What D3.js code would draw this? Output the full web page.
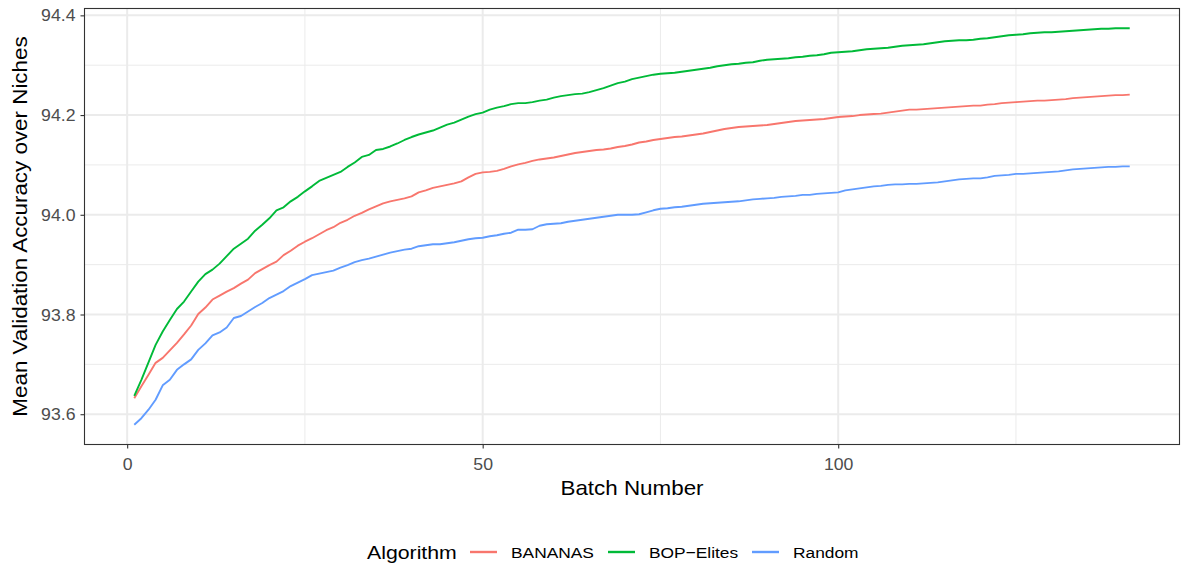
<!DOCTYPE html>
<html>
<head>
<meta charset="utf-8">
<script src="https://cdn.jsdelivr.net/npm/d3@7"></script>
<style>
  body { margin: 0; background: #ffffff; }
  svg { display: block; font-family: "Liberation Sans", Arial, sans-serif; }
</style>
</head>
<body>
<svg id="chart" width="1181" height="565"></svg>
<script>

// batch numbers 1..141
var batches = d3.range(1, 142);

var algorithms = ["BANANAS", "BOP\u2212Elites", "Random"];
var colors = ["#F8766D", "#00BA38", "#619CFF"];

var bananas = [
  93.632, 93.656, 93.679, 93.703, 93.713, 93.728, 93.743, 93.760, 93.778, 93.801,
  93.814, 93.830, 93.838, 93.846, 93.853, 93.862, 93.870, 93.883, 93.891, 93.899,
  93.906, 93.919, 93.928, 93.938, 93.946, 93.953, 93.961, 93.969, 93.975, 93.984,
  93.990, 93.998, 94.004, 94.011, 94.017, 94.023, 94.027, 94.030, 94.033, 94.037,
  94.045, 94.049, 94.054, 94.057, 94.060, 94.063, 94.067, 94.075, 94.082, 94.085,
  94.086, 94.088, 94.092, 94.097, 94.101, 94.104, 94.108, 94.111, 94.113, 94.115,
  94.118, 94.121, 94.124, 94.126, 94.128, 94.130, 94.131, 94.133, 94.136, 94.138,
  94.141, 94.145, 94.147, 94.150, 94.152, 94.154, 94.156, 94.157, 94.159, 94.161,
  94.163, 94.166, 94.169, 94.172, 94.174, 94.176, 94.177, 94.178, 94.179, 94.180,
  94.182, 94.184, 94.186, 94.188, 94.189, 94.190, 94.191, 94.192, 94.194, 94.196,
  94.197, 94.198, 94.200, 94.201, 94.202, 94.203, 94.205, 94.207, 94.209, 94.211,
  94.211, 94.212, 94.213, 94.214, 94.215, 94.216, 94.217, 94.218, 94.219, 94.219,
  94.221, 94.222, 94.224, 94.225, 94.226, 94.227, 94.228, 94.229, 94.229, 94.230,
  94.231, 94.232, 94.234, 94.235, 94.236, 94.237, 94.238, 94.239, 94.240, 94.240,
  94.241
];

var bopElites = [
  93.637, 93.669, 93.704, 93.739, 93.766, 93.789, 93.811, 93.826, 93.846, 93.866,
  93.881, 93.890, 93.902, 93.917, 93.932, 93.942, 93.952, 93.968, 93.980, 93.993,
  94.009, 94.015, 94.027, 94.036, 94.047, 94.057, 94.068, 94.074, 94.080, 94.086,
  94.096, 94.105, 94.116, 94.120, 94.130, 94.132, 94.137, 94.143, 94.150, 94.156,
  94.161, 94.165, 94.169, 94.175, 94.181, 94.185, 94.191, 94.197, 94.202, 94.205,
  94.211, 94.215, 94.218, 94.222, 94.224, 94.224, 94.226, 94.229, 94.231, 94.235,
  94.238, 94.240, 94.242, 94.243, 94.246, 94.250, 94.254, 94.259, 94.264, 94.267,
  94.272, 94.275, 94.278, 94.281, 94.283, 94.284, 94.285, 94.287, 94.289, 94.291,
  94.293, 94.295, 94.298, 94.300, 94.302, 94.303, 94.305, 94.306, 94.309, 94.311,
  94.312, 94.313, 94.314, 94.316, 94.317, 94.319, 94.320, 94.322, 94.325, 94.326,
  94.327, 94.328, 94.330, 94.332, 94.333, 94.334, 94.335, 94.337, 94.339, 94.340,
  94.341, 94.342, 94.344, 94.346, 94.348, 94.349, 94.350, 94.350, 94.351, 94.353,
  94.354, 94.356, 94.358, 94.360, 94.361, 94.362, 94.364, 94.365, 94.366, 94.366,
  94.367, 94.368, 94.369, 94.370, 94.371, 94.372, 94.373, 94.373, 94.374, 94.374,
  94.374
];

var random = [
  93.579, 93.592, 93.609, 93.629, 93.658, 93.669, 93.689, 93.700, 93.710, 93.729,
  93.742, 93.758, 93.764, 93.774, 93.793, 93.797, 93.806, 93.815, 93.823, 93.833,
  93.840, 93.847, 93.857, 93.864, 93.871, 93.879, 93.882, 93.885, 93.888, 93.894,
  93.899, 93.905, 93.909, 93.912, 93.916, 93.920, 93.924, 93.927, 93.930, 93.932,
  93.937, 93.939, 93.941, 93.941, 93.943, 93.945, 93.948, 93.951, 93.953, 93.954,
  93.957, 93.959, 93.962, 93.964, 93.970, 93.970, 93.971, 93.978, 93.981, 93.982,
  93.983, 93.986, 93.988, 93.990, 93.992, 93.994, 93.996, 93.998, 94.000, 94.000,
  94.000, 94.001, 94.005, 94.009, 94.012, 94.013, 94.015, 94.016, 94.018, 94.020,
  94.022, 94.023, 94.024, 94.025, 94.026, 94.027, 94.029, 94.031, 94.032, 94.033,
  94.034, 94.036, 94.037, 94.038, 94.040, 94.040, 94.042, 94.043, 94.044, 94.045,
  94.049, 94.051, 94.053, 94.055, 94.057, 94.058, 94.060, 94.061, 94.061, 94.062,
  94.062, 94.063, 94.064, 94.065, 94.067, 94.069, 94.071, 94.072, 94.073, 94.073,
  94.075, 94.078, 94.079, 94.080, 94.082, 94.082, 94.083, 94.084, 94.085, 94.086,
  94.087, 94.089, 94.091, 94.092, 94.093, 94.094, 94.095, 94.096, 94.096, 94.097,
  94.097
];

var xTicks = [0, 50, 100];
var xMinor = [25, 75, 125];
var yTicks = [93.6, 93.8, 94.0, 94.2, 94.4];
var yMinor = [93.7, 93.9, 94.1, 94.3];

var seriesValues = [bananas, bopElites, random];

// panel box
var panel = { left: 84.5, right: 1179.5, top: 8.5, bottom: 444.5 };
var sx = 1.12;  // text in the original renders a bit wider than Liberation Sans

var svg = d3.select("#chart");

// ggplot style 5% expansion
function expand(ext) {
  var pad = (ext[1] - ext[0]) * 0.05;
  return [ext[0] - pad, ext[1] + pad];
}
var allVals = d3.merge(seriesValues);

var xScale = d3.scaleLinear()
    .domain(expand(d3.extent(batches)))
    .range([panel.left, panel.right]);

var yScale = d3.scaleLinear()
    .domain(expand(d3.extent(allVals)))
    .range([panel.bottom, panel.top]);

var grid = svg.append("g").attr("id", "grid");

// minor grid
grid.selectAll("line.ymin").data(yMinor).enter().append("line")
    .attr("x1", panel.left).attr("x2", panel.right)
    .attr("y1", d => yScale(d)).attr("y2", d => yScale(d))
    .attr("stroke", "#ebebeb").attr("stroke-width", 1);
grid.selectAll("line.xmin").data(xMinor).enter().append("line")
    .attr("y1", panel.top).attr("y2", panel.bottom)
    .attr("x1", d => xScale(d)).attr("x2", d => xScale(d))
    .attr("stroke", "#ebebeb").attr("stroke-width", 1);

// major grid
grid.selectAll("line.ymaj").data(yTicks).enter().append("line")
    .attr("x1", panel.left).attr("x2", panel.right)
    .attr("y1", d => yScale(d)).attr("y2", d => yScale(d))
    .attr("stroke", "#ebebeb").attr("stroke-width", 2);
grid.selectAll("line.xmaj").data(xTicks).enter().append("line")
    .attr("y1", panel.top).attr("y2", panel.bottom)
    .attr("x1", d => xScale(d)).attr("x2", d => xScale(d))
    .attr("stroke", "#ebebeb").attr("stroke-width", 2);

// lines
var line = d3.line()
    .x((d, i) => xScale(batches[i]))
    .y(d => yScale(d));

svg.append("g").attr("id", "series")
    .selectAll("path")
    .data(seriesValues)
    .enter()
    .append("path")
    .attr("d", line)
    .attr("fill", "none")
    .attr("stroke", (d, i) => colors[i])
    .attr("stroke-width", 1.9)
    .attr("stroke-linejoin", "round");

// axes
var xAxis = d3.axisBottom(xScale).tickValues(xTicks).tickSize(4)
    .tickFormat(d3.format("d"));
var yAxis = d3.axisLeft(yScale).tickValues(yTicks).tickSize(4)
    .tickFormat(d3.format(".1f"));

var gx = svg.append("g")
    .attr("transform", "translate(0," + panel.bottom + ")")
    .call(xAxis);
var gy = svg.append("g")
    .attr("transform", "translate(" + panel.left + ",0)")
    .call(yAxis);

[gx, gy].forEach(function(g) {
  g.select(".domain").remove();
  g.selectAll(".tick line").attr("stroke", "#333333").attr("stroke-width", 1.1);
  g.selectAll(".tick text")
    .attr("fill", "#4d4d4d")
    .attr("x", 0).attr("y", 0).attr("dy", null)
    .style("font-size", "15.8px")
    .style("font-family", "'Liberation Sans', Arial, sans-serif");
});
gx.selectAll(".tick text").attr("transform", "translate(0,25.5) scale(" + sx + ",1)");
gy.selectAll(".tick text").attr("transform", "translate(-9,5.6) scale(" + sx + ",1)");

// panel border
svg.append("rect")
    .attr("x", panel.left).attr("y", panel.top)
    .attr("width", panel.right - panel.left)
    .attr("height", panel.bottom - panel.top)
    .attr("fill", "none")
    .attr("stroke", "#333333")
    .attr("stroke-width", 1.1);

// axis titles
svg.append("text")
    .attr("transform", "translate(" + ((panel.left + panel.right) / 2) + ",494.5) scale(" + sx + ",1)")
    .attr("text-anchor", "middle")
    .style("font-size", "20px")
    .text("Batch Number");

svg.append("text")
    .attr("transform", "translate(26.5," + ((panel.top + panel.bottom) / 2) + ") rotate(-90) scale(" + sx + ",1)")
    .attr("text-anchor", "middle")
    .style("font-size", "20px")
    .text("Mean Validation Accuracy over Niches");

// legend
var legend = svg.append("g").attr("id", "legend");
legend.append("text")
    .attr("transform", "translate(367,558.5) scale(" + sx + ",1)")
    .style("font-size", "19px")
    .text("Algorithm");

var keyX = [470, 608, 752];
var items = legend.selectAll("g.item")
    .data(algorithms)
    .enter()
    .append("g")
    .attr("transform", (d, i) => "translate(" + keyX[i] + ",0)");

items.append("line")
    .attr("x1", 0).attr("x2", 27)
    .attr("y1", 552).attr("y2", 552)
    .attr("stroke", (d, i) => colors[i])
    .attr("stroke-width", 2.4);

items.append("text")
    .attr("transform", "translate(41,558) scale(" + sx + ",1)")
    .style("font-size", "15.5px")
    .text(d => d);

</script>
</body>
</html>
